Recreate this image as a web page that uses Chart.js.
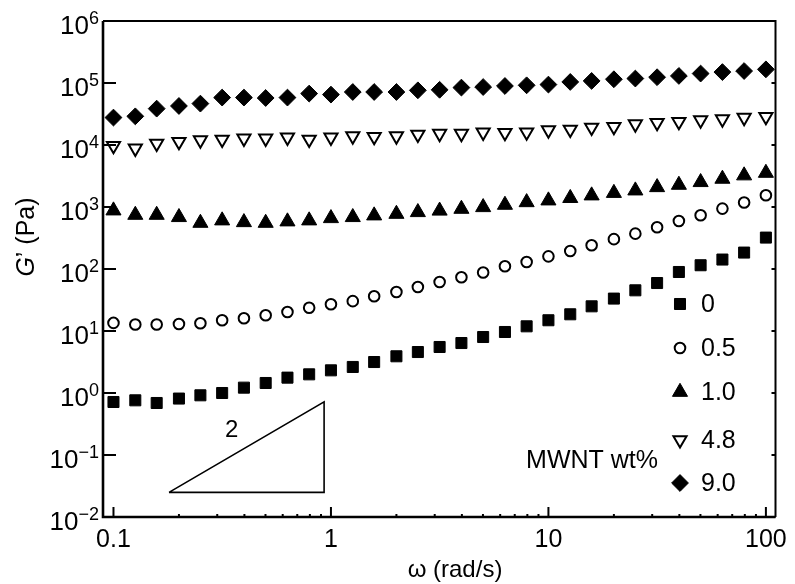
<!DOCTYPE html>
<html>
<head>
<meta charset="utf-8">
<title>G' vs omega, MWNT composites</title>
<script src="https://cdn.jsdelivr.net/npm/chart.js@4.4.1/dist/chart.umd.min.js"></script>
<style>
  html, body { margin: 0; padding: 0; background: #fff; }
  #wrap { width: 795px; height: 584px; }
</style>
</head>
<body>
<div id="wrap"><canvas id="gChart" width="795" height="584"></canvas></div>
<script>
const FONT = '"Liberation Sans", Arial, Helvetica, sans-serif';

// angular frequency, rad/s
const omega = [0.1, 0.126, 0.158, 0.2, 0.251, 0.316, 0.398, 0.501, 0.631, 0.794,
  1, 1.26, 1.58, 2, 2.51, 3.16, 3.98, 5.01, 6.31, 7.94,
  10, 12.6, 15.8, 20, 25.1, 31.6, 39.8, 50.1, 63.1, 79.4, 100];

// G' (Pa) for each MWNT loading
const g0 = [0.716, 0.762, 0.69, 0.813, 0.918, 1.0, 1.22, 1.45, 1.77, 2.0,
  2.32, 2.63, 3.16, 3.91, 4.58, 5.52, 6.4, 8.0, 9.64, 11.9,
  14.9, 18.6, 25.0, 33.3, 45.3, 59.4, 89.5, 115, 142, 184, 321];
const g05 = [13.5, 12.7, 12.7, 13.0, 13.3, 14.9, 16.1, 17.9, 20.2, 23.7,
  27.0, 30.3, 36.3, 42.6, 51.3, 61.7, 73.5, 87.9, 111, 130,
  160, 195, 241, 303, 372, 471, 593, 735, 942, 1180, 1545];
const g10 = [876, 744, 744, 684, 553, 605, 567, 553, 583, 605,
  658, 684, 728, 772, 823, 870, 930, 990, 1080, 1190,
  1270, 1390, 1530, 1680, 1840, 2080, 2270, 2510, 2840, 3220, 3540];
const g48 = [9740, 8820, 10600, 11300, 12000, 12300, 12800, 12800, 13300, 12300,
  13300, 13900, 13600, 13900, 14800, 15300, 15300, 16000, 15800, 16100,
  17400, 17800, 19200, 19700, 21700, 22900, 23700, 25200, 26200, 27600, 28600];
const g90 = [27700, 29000, 38600, 42600, 46500, 58200, 58200, 57300, 58200, 67500,
  65000, 71600, 71600, 71600, 76200, 77700, 84300, 86100, 89500, 91800,
  94300, 104000, 108000, 115000, 118000, 124000, 130000, 142000, 150000, 156000, 166000];

const seriesLabels = ['0', '0.5', '1.0', '4.8', '9.0'];
const seriesValues = [g0, g05, g10, g48, g90];

// axis ticks
const xTickLabels = [0.1, 1, 10, 100];
const yTickExps = [-2, -1, 0, 1, 2, 3, 4, 5, 6];

// slope guide triangle, in data units
const slopeX = [0.18, 0.93, 0.93, 0.18];
const slopeY = [0.025, 0.025, 0.72, 0.025];
const slopeText = { x: 0.35, y: 0.25, text: '2' };

// marker look per series
const markers = [
  { style: 'rect', r: 7.8, fill: '#000', bw: 1, rot: 0 },
  { style: 'circle', r: 5.3, fill: '#fff', bw: 2, rot: 0 },
  { style: 'triangle', r: 8.7, fill: '#000', bw: 1, rot: 0 },
  { style: 'triangle', r: 7.6, fill: '#fff', bw: 2, rot: 180 },
  { style: 'rectRot', r: 8.4, fill: '#000', bw: 1, rot: 0 }
];

const datasets = seriesValues.map((vals, k) => ({
  label: seriesLabels[k],
  data: omega.map((x, i) => ({ x: x, y: vals[i] })),
  showLine: false,
  pointStyle: markers[k].style,
  pointRadius: markers[k].r,
  pointHoverRadius: markers[k].r,
  pointRotation: markers[k].rot,
  pointBackgroundColor: markers[k].fill,
  pointBorderColor: '#000',
  pointBorderWidth: markers[k].bw
}));

datasets.push({
  label: 'slope',
  type: 'line',
  data: slopeX.map((x, i) => ({ x: x, y: slopeY[i] })),
  borderColor: '#000',
  borderWidth: 1.6,
  pointRadius: 0,
  fill: false,
  tension: 0
});

function drawMarker(ctx, m, x, y) {
  ctx.save();
  ctx.fillStyle = m.fill;
  ctx.strokeStyle = '#000';
  ctx.lineWidth = m.bw;
  if (Chart.helpers && Chart.helpers.drawPoint) {
    Chart.helpers.drawPoint(ctx, { pointStyle: m.style, radius: m.r, rotation: m.rot, borderWidth: m.bw }, x, y);
  }
  ctx.restore();
}

// frame, inward ticks, y labels, titles, legend
const decorPlugin = {
  id: 'decor',
  afterDraw(chart) {
    const ctx = chart.ctx;
    const a = chart.chartArea;
    const xs = chart.scales.x;
    const ys = chart.scales.y;
    ctx.save();
    ctx.strokeStyle = '#000';
    ctx.fillStyle = '#000';

    // frame
    ctx.lineWidth = 2;
    ctx.beginPath();
    ctx.moveTo(a.left, a.top);
    ctx.lineTo(a.right, a.top);
    ctx.lineTo(a.right, a.bottom);
    ctx.stroke();
    ctx.lineWidth = 2.6;
    ctx.beginPath();
    ctx.moveTo(a.left, a.top);
    ctx.lineTo(a.left, a.bottom);
    ctx.lineTo(a.right, a.bottom);
    ctx.stroke();

    // y ticks (left long, right short)
    ctx.lineWidth = 2;
    yTickExps.forEach(e => {
      const py = ys.getPixelForValue(Math.pow(10, e));
      ctx.beginPath();
      ctx.moveTo(a.left, py);
      ctx.lineTo(a.left + 13, py);
      ctx.moveTo(a.right, py);
      ctx.lineTo(a.right - 4, py);
      ctx.stroke();
    });

    // x ticks, major and minor
    xTickLabels.forEach(v => {
      const px = xs.getPixelForValue(v);
      ctx.beginPath();
      ctx.moveTo(px, a.bottom);
      ctx.lineTo(px, a.bottom - 10);
      ctx.stroke();
      if (v < 100) {
        for (let m = 2; m < 10; m++) {
          const qx = xs.getPixelForValue(v * m);
          ctx.beginPath();
          ctx.moveTo(qx, a.bottom);
          ctx.lineTo(qx, a.bottom - 3);
          ctx.stroke();
        }
      }
    });

    // y tick labels 10^n
    ctx.textAlign = 'right';
    ctx.textBaseline = 'middle';
    yTickExps.forEach(e => {
      const py = ys.getPixelForValue(Math.pow(10, e));
      const sup = e < 0 ? '\u2212' + Math.abs(e) : String(e);
      ctx.font = '18px ' + FONT;
      const sw = ctx.measureText(sup).width;
      ctx.fillText(sup, a.left - 4, py - 2);
      ctx.font = '26px ' + FONT;
      ctx.fillText('10', a.left - 4 - sw, py + 6);
    });

    // slope label
    ctx.textAlign = 'center';
    ctx.font = '24px ' + FONT;
    ctx.fillText(slopeText.text, xs.getPixelForValue(slopeText.x), ys.getPixelForValue(slopeText.y));

    // x title
    ctx.font = '24px ' + FONT;
    ctx.fillText('\u03c9 (rad/s)', 455, 570);

    // y title, rotated, italic G
    ctx.save();
    ctx.translate(27, 237);
    ctx.rotate(-Math.PI / 2);
    ctx.textAlign = 'left';
    ctx.font = 'italic 25px ' + FONT;
    const gw = ctx.measureText('G').width;
    ctx.font = '25px ' + FONT;
    const rest = '\u2019 (Pa)';
    const rw = ctx.measureText(rest).width;
    const x0 = -(gw + rw) / 2;
    ctx.font = 'italic 25px ' + FONT;
    ctx.fillText('G', x0, 0);
    ctx.font = '25px ' + FONT;
    ctx.fillText(rest, x0 + gw, 0);
    ctx.restore();

    // legend
    const legX = 680;
    const legY = [304, 348, 392, 440, 483];
    ctx.textAlign = 'left';
    ctx.font = '25px ' + FONT;
    seriesLabels.forEach((lab, k) => {
      drawMarker(ctx, markers[k], legX, legY[k]);
      ctx.fillStyle = '#000';
      ctx.fillText(lab, 701, legY[k] + 1);
    });
    ctx.textAlign = 'right';
    ctx.fillText('MWNT wt%', 658, 461);

    ctx.restore();
  }
};

new Chart(document.getElementById('gChart'), {
  type: 'scatter',
  data: { datasets: datasets },
  options: {
    responsive: false,
    animation: false,
    layout: { padding: { top: 21, right: 17, left: 0, bottom: 0 } },
    plugins: {
      legend: { display: false },
      tooltip: { enabled: false }
    },
    scales: {
      x: {
        type: 'logarithmic',
        min: 0.0895,
        max: 110.7,
        border: { display: false },
        grid: { display: false, drawTicks: false },
        afterBuildTicks: s => { s.ticks = xTickLabels.map(v => ({ value: v })); },
        afterFit: s => { s.height = 584 - 517; },
        ticks: {
          color: '#000',
          font: { family: FONT, size: 25 },
          padding: 8,
          maxRotation: 0,
          autoSkip: false,
          callback: v => String(v)
        }
      },
      y: {
        type: 'logarithmic',
        min: 0.01,
        max: 1000000,
        border: { display: false },
        grid: { display: false, drawTicks: false },
        ticks: { display: false },
        afterFit: s => { s.width = 103; }
      }
    }
  },
  plugins: [decorPlugin]
});
</script>
</body>
</html>
